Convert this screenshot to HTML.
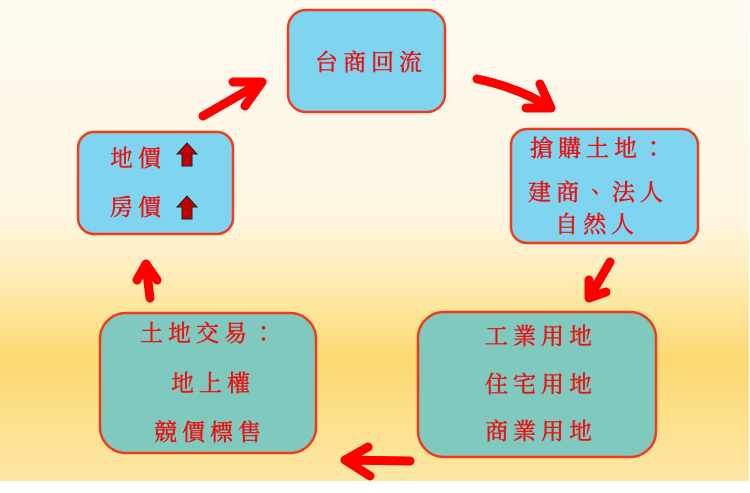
<!DOCTYPE html>
<html><head><meta charset="utf-8"><style>
html,body{margin:0;padding:0;width:750px;height:493px;overflow:hidden;background:#fff}
</style></head><body>
<svg width="750" height="493" viewBox="0 0 750 493" xmlns="http://www.w3.org/2000/svg">
<defs>
<linearGradient id="bg" x1="0" y1="0" x2="0" y2="1">
<stop offset="0" stop-color="#fefaf0"/>
<stop offset="0.45" stop-color="#fef6e2"/>
<stop offset="0.56" stop-color="#feeebc"/>
<stop offset="0.75" stop-color="#fbd970"/>
<stop offset="1" stop-color="#fde7a6"/>
</linearGradient>
</defs>
<rect x="0" y="0" width="749" height="481" fill="url(#bg)"/>
<g stroke="#f03c1c" stroke-width="2.5">
<rect x="288" y="10" width="157" height="102" rx="18" fill="#7fd4ef"/>
<rect x="78" y="132" width="155" height="102" rx="16" fill="#7fd4ef"/>
<rect x="511" y="129" width="187" height="114" rx="16" fill="#7fd4ef"/>
<rect x="418" y="312" width="238" height="145" rx="26" fill="#7fc9bf"/>
<rect x="100" y="313" width="216" height="140" rx="26" fill="#7fc9bf"/>
</g>
<g stroke="#ff0000" stroke-width="9" stroke-linecap="round" stroke-linejoin="round" fill="none">
<path d="M203 116 L262 82 M233 82 L262 82 L245 106"/>
<path d="M477 79 Q520 88 551 108 M540 84 L551 108 L526 108"/>
<path d="M610 262 L589 298 M589 280 L589 298 L606 292"/>
<path d="M410 461 L345 460 M368 447 L345 460 L370 476"/>
<path d="M150 298 L146 266 M137 280 L146 264 L157 280"/>
</g>
<g font-family="'Noto Serif CJK TC','Noto Serif CJK SC',serif" font-size="23" fill="#ee1010" stroke="#ee1010" stroke-width="0.5" text-anchor="middle" letter-spacing="5">
<text x="371" y="70">台商回流</text>
<text x="138" y="166">地價</text>
<text x="138" y="215">房價</text>
<text x="600" y="156">搶購土地：</text>
<text x="598" y="200">建商、法人</text>
<text x="597" y="232">自然人</text>
<text x="541" y="344">工業用地</text>
<text x="541" y="392">住宅用地</text>
<text x="541" y="439">商業用地</text>
<text x="210" y="341">土地交易：</text>
<text x="213" y="391">地上權</text>
<text x="210" y="440">競價標售</text>
</g>
<g fill="#c00000" stroke="#222" stroke-width="1">
<path d="M187 143 L197 154 L192 154 L192 166 L182 166 L182 154 L177 154 Z"/>
<path d="M187 196 L197 207 L192 207 L192 219 L182 219 L182 207 L177 207 Z"/>
</g>
</svg>
</body></html>
